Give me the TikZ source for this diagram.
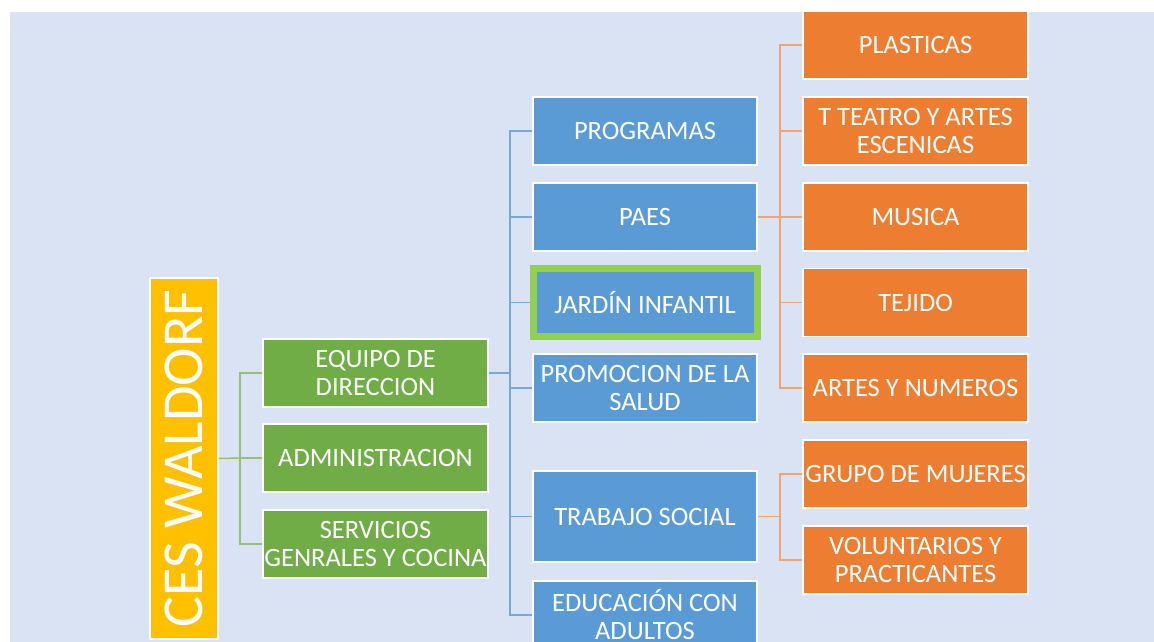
\documentclass[tikz,border=0pt]{standalone}
\usepackage{fontspec}
\setmainfont{Carlito}
\definecolor{bgc}{HTML}{DAE3F3}
\definecolor{cgreen}{HTML}{70AD47}
\definecolor{cblue}{HTML}{5B9BD5}
\definecolor{corange}{HTML}{ED7D31}
\definecolor{cyellow}{HTML}{FFC000}
\definecolor{clime}{HTML}{92D050}
\tikzset{
  box/.style={draw=white, line width=1.2pt, inner sep=0pt, text=white, align=center,
    font=\fontsize{26.5}{28}\selectfont, minimum width=225pt, minimum height=68pt},
  gbox/.style={box, fill=cgreen},
  bbox/.style={box, fill=cblue, minimum width=224pt},
  obox/.style={box, fill=corange},
  ybox/.style={box, fill=cyellow, font=\fontsize{58}{62}\selectfont},
  gline/.style={draw=cgreen!75!white, line width=1.5pt},
  bline/.style={draw=cblue!85!white, line width=1.5pt},
  oline/.style={draw=corange!70!white, line width=1.5pt},
}
\begin{document}
\begin{tikzpicture}[x=1pt,y=-1pt]
\useasboundingbox (0,0) rectangle (1154,642);
\fill[white] (0,0) rectangle (1154,642);
\fill[bgc] (10,12) rectangle (1154,642);
\begin{scope}
\clip (10,12) rectangle (1154,642);
% root
\node[ybox, rotate=90, minimum width=361pt, minimum height=68pt] (ces) at (184,458.5) {CES WALDORF};
% green level
\node[gbox] (equipo) at (375.5,373) {EQUIPO DE\\DIRECCION};
\node[gbox] (admin) at (375.5,458) {ADMINISTRACION};
\node[gbox] (serv) at (375.5,544) {SERVICIOS\\GENRALES Y COCINA};
% blue level
\node[bbox] (prog) at (645,131) {PROGRAMAS};
\node[bbox] (paes) at (645,217) {PAES};
\node[bbox, draw=clime, line width=7pt, minimum width=224pt, minimum height=68.5pt] (jardin) at (645,302.5) {JARDÍN INFANTIL};
\node[bbox] (promo) at (645,388) {PROMOCION DE LA\\SALUD};
\node[bbox, minimum height=91pt] (trabajo) at (645,516.5) {TRABAJO SOCIAL};
\node[bbox] (educ) at (645,615) {EDUCACIÓN CON\\ADULTOS};
% orange level
\node[obox] (plast) at (915.5,45) {PLASTICAS};
\node[obox] (teatro) at (915.5,131) {T TEATRO Y ARTES\\ESCENICAS};
\node[obox] (musica) at (915.5,217) {MUSICA};
\node[obox] (tejido) at (915.5,302.5) {TEJIDO};
\node[obox] (artes) at (915.5,388) {ARTES Y NUMEROS};
\node[obox] (grupo) at (915.5,474) {GRUPO DE MUJERES};
\node[obox] (volun) at (915.5,560) {VOLUNTARIOS Y\\PRACTICANTES};
% green connectors
\coordinate (gj) at (240,458);
\draw[gline] (ces.south) -- (gj);
\draw[gline] (gj) |- (equipo.west);
\draw[gline] (gj) -- (admin.west);
\draw[gline] (gj) |- (serv.west);
% blue connectors
\coordinate (bj) at (510,373);
\draw[bline] (equipo.east) -- (bj);
\foreach \n in {prog,paes,jardin,promo,trabajo,educ}
  \draw[bline] (bj) |- (\n.west);
% orange connectors
\coordinate (oj) at (780,217);
\draw[oline] (paes.east) -- (oj);
\foreach \n in {plast,teatro,musica,tejido,artes}
  \draw[oline] (oj) |- (\n.west);
\coordinate (oj2) at (780,516.5);
\draw[oline] (trabajo.east) -- (oj2);
\foreach \n in {grupo,volun}
  \draw[oline] (oj2) |- (\n.west);
\end{scope}
\end{tikzpicture}
\end{document}
